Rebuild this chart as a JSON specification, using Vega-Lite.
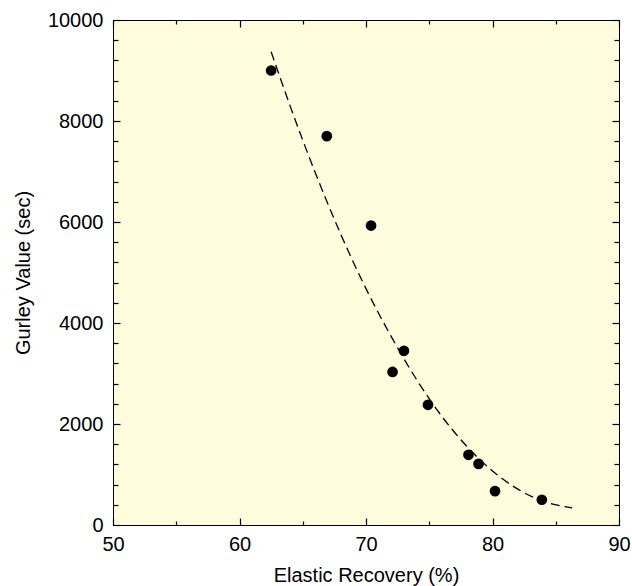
{
  "$schema": "https://vega.github.io/schema/vega-lite/v6.json",
  "autosize": "none",
  "width": 506,
  "height": 505,
  "padding": {"left": 113, "top": 20, "right": 13, "bottom": 61},
  "background": "white",
  "config": {
    "view": {"fill": "#fffbdd", "stroke": "black", "strokeWidth": 1},
    "axis": {
      "labelFont": "Liberation Sans",
      "titleFont": "Liberation Sans",
      "labelFontSize": 20,
      "titleFontSize": 20,
      "titleFontWeight": "normal",
      "labelColor": "black",
      "titleColor": "black",
      "domainColor": "black",
      "tickColor": "black",
      "tickWidth": 1.2,
      "labelFlush": false,
      "labelOverlap": false,
      "grid": false
    }
  },
  "datasets": {
    "points": [
      {"recovery": 62.5, "gurley": 9000},
      {"recovery": 66.9, "gurley": 7700},
      {"recovery": 70.4, "gurley": 5930},
      {"recovery": 73.0, "gurley": 3450},
      {"recovery": 72.1, "gurley": 3030},
      {"recovery": 74.9, "gurley": 2380},
      {"recovery": 78.1, "gurley": 1390},
      {"recovery": 78.9, "gurley": 1210},
      {"recovery": 80.2, "gurley": 670},
      {"recovery": 83.9, "gurley": 500}
    ],
    "fit": [
      {"recovery": 62.5, "gurley": 9370},
      {"recovery": 64, "gurley": 8300},
      {"recovery": 66, "gurley": 6970},
      {"recovery": 68, "gurley": 5760},
      {"recovery": 70, "gurley": 4680},
      {"recovery": 72, "gurley": 3730},
      {"recovery": 74, "gurley": 2880},
      {"recovery": 76, "gurley": 2150},
      {"recovery": 78, "gurley": 1550},
      {"recovery": 80, "gurley": 1070},
      {"recovery": 82, "gurley": 710},
      {"recovery": 84, "gurley": 470},
      {"recovery": 86.3, "gurley": 340}
    ]
  },
  "layer": [
    {
      "data": {"name": "fit"},
      "mark": {"type": "line", "color": "black", "strokeWidth": 1.3, "strokeDash": [9, 5], "interpolate": "monotone"},
      "encoding": {
        "x": {
          "field": "recovery", "type": "quantitative",
          "scale": {"domain": [50, 90], "nice": false, "zero": false},
          "axis": {
            "orient": "top", "title": null, "labels": false, "domain": false,
            "values": [50, 55, 60, 65, 70, 75, 80, 85, 90],
            "tickSize": {"condition": {"test": "datum.value % 10 === 0", "value": -7}, "value": -4}
          }
        },
        "y": {
          "field": "gurley", "type": "quantitative",
          "scale": {"domain": [0, 10000], "nice": false},
          "axis": {
            "orient": "right", "title": null, "labels": false, "domain": false,
            "values": [0, 400, 800, 1200, 1600, 2000, 2400, 2800, 3200, 3600, 4000, 4400, 4800, 5200, 5600, 6000, 6400, 6800, 7200, 7600, 8000, 8400, 8800, 9200, 9600, 10000],
            "tickSize": {"condition": {"test": "datum.value % 2000 === 0", "value": -7}, "value": -5}
          }
        }
      }
    },
    {
      "data": {"name": "points"},
      "mark": {"type": "circle", "color": "black", "size": 115, "opacity": 1},
      "encoding": {
        "x": {
          "field": "recovery", "type": "quantitative",
          "scale": {"domain": [50, 90], "nice": false, "zero": false},
          "axis": {
            "orient": "bottom", "title": "Elastic Recovery (%)", "domain": false,
            "values": [50, 55, 60, 65, 70, 75, 80, 85, 90],
            "labelExpr": "datum.value % 10 === 0 ? datum.label : ''",
            "labelFontSize": 20, "titleFontSize": 20,
            "labelPadding": 16, "titlePadding": 8,
            "tickSize": {"condition": {"test": "datum.value % 10 === 0", "value": -7}, "value": -4}
          }
        },
        "y": {
          "field": "gurley", "type": "quantitative",
          "scale": {"domain": [0, 10000], "nice": false},
          "axis": {
            "orient": "left", "title": "Gurley Value (sec)", "domain": false,
            "values": [0, 400, 800, 1200, 1600, 2000, 2400, 2800, 3200, 3600, 4000, 4400, 4800, 5200, 5600, 6000, 6400, 6800, 7200, 7600, 8000, 8400, 8800, 9200, 9600, 10000],
            "labelExpr": "datum.value % 2000 === 0 ? datum.label : ''",
            "format": "d",
            "labelFontSize": 20, "titleFontSize": 20,
            "labelPadding": 17, "titlePadding": 14,
            "tickSize": {"condition": {"test": "datum.value % 2000 === 0", "value": -7}, "value": -5}
          }
        }
      }
    }
  ],
  "resolve": {"axis": {"x": "independent", "y": "independent"}}
}
